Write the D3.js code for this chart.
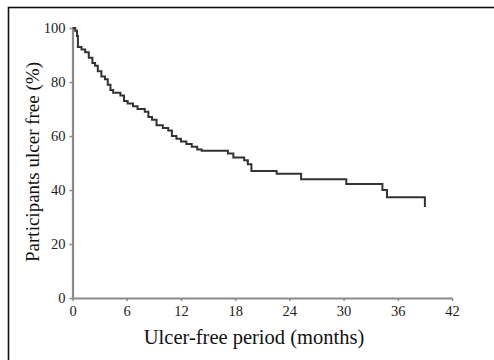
<!DOCTYPE html>
<html>
<head>
<meta charset="utf-8">
<script src="https://cdn.jsdelivr.net/npm/d3@7"></script>
<style>
  html, body { margin: 0; padding: 0; background: #fff; }
  svg { display: block; }
</style>
</head>
<body>
<svg id="chart" width="494" height="360"></svg>
<script>
// Kaplan-Meier step data: month at which survival drops, and new value (%)
const months = [0, 0.3, 0.5, 0.6, 1.0, 1.4, 1.8, 2.2, 2.5, 2.8, 3.2, 3.6, 3.9, 4.2, 4.5, 5.3, 5.7, 6.1, 6.7, 7.2, 8.0, 8.4, 8.8, 9.3, 10.0, 10.6, 11.0, 11.5, 12.0, 12.6, 13.2, 13.8, 14.3, 17.2, 17.8, 19.0, 19.4, 19.8, 22.6, 25.3, 30.3, 34.3, 34.8, 39.0];
const ulcerFree = [100, 99, 97, 93, 92, 91, 89, 87, 86, 84, 82, 81, 79, 77, 76, 75, 73, 72, 71, 70, 69, 67, 66, 64, 63, 62, 60, 59, 58, 57, 56, 55, 54.5, 53.5, 52, 51, 49.5, 47, 46, 44, 42.2, 40, 37.3, 33.7];
const xTicks = [0, 6, 12, 18, 24, 30, 36, 42];
const yTicks = [0, 20, 40, 60, 80, 100];
const xTitle = "Ulcer-free period (months)";
const yTitle = "Participants ulcer free (%)";

const svg = d3.select("#chart");
const font = "'Liberation Serif', 'DejaVu Serif', serif";

// frame
svg.append("rect")
  .attr("x", 8.5).attr("y", 7.5).attr("width", 490).attr("height", 360)
  .attr("fill", "none").attr("stroke", "#111").attr("stroke-width", 1.6);

const x = d3.scaleLinear().domain([0, 42]).range([72.5, 452]);
const y = d3.scaleLinear().domain([0, 100]).range([298, 28]);

const axisColor = "#8a8a8a";

// x axis
const gx = svg.append("g").attr("transform", `translate(0,${y(0)})`)
  .call(d3.axisBottom(x).tickValues(xTicks).tickSize(3).tickPadding(5).tickSizeOuter(0));
// y axis
const gy = svg.append("g").attr("transform", `translate(${x(0)},0)`)
  .call(d3.axisLeft(y).tickValues(yTicks).tickSize(3).tickPadding(4).tickSizeOuter(0));

[gx, gy].forEach(g => {
  g.select(".domain").attr("stroke", axisColor).attr("stroke-width", 2.2);
  g.selectAll(".tick line").attr("stroke", axisColor).attr("stroke-width", 1.5);
  g.selectAll(".tick text").attr("fill", "#222").style("font-family", font).style("font-size", "14.5px");
});

// curve
const data = months.map((m, i) => ({ m, v: ulcerFree[i] }));
const line = d3.line().x(d => x(d.m)).y(d => y(d.v)).curve(d3.curveStepAfter);
svg.append("path").datum(data)
  .attr("d", line)
  .attr("fill", "none").attr("stroke", "#333").attr("stroke-width", 2);

// titles
svg.append("text")
  .attr("x", 254).attr("y", 344)
  .attr("text-anchor", "middle")
  .style("font-family", font).style("font-size", "20.5px").attr("fill", "#111")
  .text(xTitle);

svg.append("text")
  .attr("transform", "translate(39,162) rotate(-90)")
  .attr("text-anchor", "middle")
  .style("font-family", font).style("font-size", "19px").attr("fill", "#111")
  .text(yTitle);
</script>
</body>
</html>
